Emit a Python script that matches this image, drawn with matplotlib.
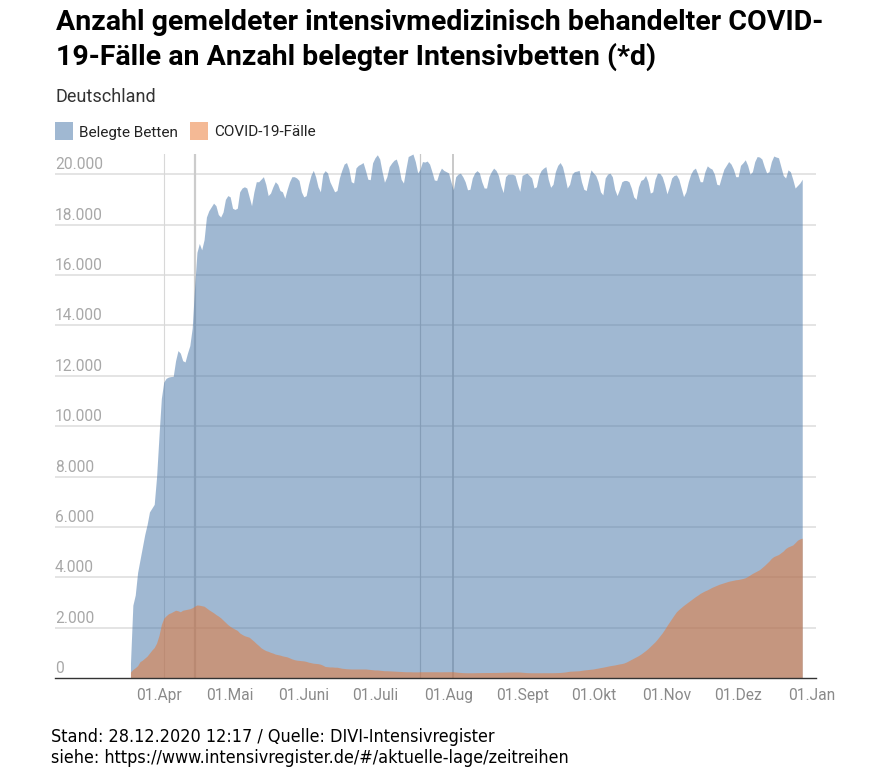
import matplotlib
matplotlib.use('Agg')
import matplotlib.pyplot as plt
import matplotlib.dates as mdates
import pandas as pd
from matplotlib.patches import Rectangle

# daily values from 20.03.2020 to 28.12.2020
start_date = '2020-03-20'

belegte_betten = [
    600, 2900, 3300, 4200, 4700, 5200, 5700, 6100, 6600, 6750,
    6900, 8000, 9600, 11100, 11750, 11900, 11950, 11970, 11980, 12600,
    13000, 12900, 12600, 12550, 12900, 13200, 13900, 15500, 16900, 17250,
    17000, 17400, 18300, 18550, 18700, 18850, 18750, 18400, 18300, 18500,
    19000, 19150, 19100, 18650, 18600, 18650, 19300, 19450, 19500, 19450,
    19100, 18750, 19300, 19700, 19700, 19800, 19900, 19600, 19150, 19250,
    19500, 19700, 19600, 19350, 19300, 19050, 19400, 19700, 19900, 19900,
    19850, 19750, 19300, 19100, 19150, 19600, 19950, 20150, 19900, 19500,
    19300, 20000, 20140, 20050, 19700, 19500, 19300, 19350, 19850, 20150,
    20400, 20460, 20200, 19700, 19650, 20250, 20350, 20400, 20460, 20150,
    19800, 19780, 20450, 20650, 20770, 20600, 20100, 19680, 19900, 20300,
    20440, 20550, 20600, 20300, 19800, 19650, 20200, 20700, 20750, 20800,
    20500, 20050, 20200, 20500, 20480, 20520, 20400, 20100, 19770, 19750,
    20050, 20240, 20150, 20100, 20050, 19700, 19380, 19900, 20000, 20040,
    19900, 19700, 19380, 19400, 19850, 20050, 20140, 20050, 19700, 19450,
    19450, 19900, 20100, 20240, 20150, 19950, 19550, 19270, 19900, 20000,
    20000, 20000, 19950, 19600, 19320, 19950, 20000, 20040, 19950, 19850,
    19450, 19500, 19950, 20150, 20240, 20300, 19800, 19480, 19600, 20100,
    20350, 20460, 20300, 19900, 19450, 19600, 20000, 20100, 20120, 20150,
    19700, 19400, 19350, 19800, 20170, 20050, 19950, 19700, 19300, 19180,
    19850, 20000, 20040, 19900, 19400, 19150, 19400, 19700, 19750, 19750,
    19700, 19450, 19100, 19000, 19500, 19750, 19800, 19950, 19700, 19250,
    19300, 19800, 20040, 20030, 19900, 19600, 19220, 19500, 19850, 19950,
    19970, 19800, 19450, 19110, 19300, 19700, 20000, 20170, 20240, 20000,
    19700, 19700, 20100, 20330, 20250, 20200, 20000, 19600, 19570, 19900,
    20200, 20350, 20500, 20400, 20200, 19900, 19900, 20350, 20450, 20570,
    20350, 20000, 20100, 20500, 20700, 20680, 20600, 20300, 20050, 20100,
    20500, 20720, 20680, 20650, 20300, 19950, 19850, 20170, 20100, 19800,
    19450, 19550, 19650, 19800,
]

covid_faelle = [
    250, 350, 420, 500, 660, 720, 800, 880, 1000, 1120,
    1220, 1400, 1700, 2130, 2380, 2480, 2560, 2600, 2650, 2700,
    2680, 2640, 2700, 2720, 2740, 2760, 2800, 2860, 2910, 2900,
    2880, 2860, 2790, 2720, 2660, 2600, 2530, 2470, 2400, 2310,
    2220, 2130, 2060, 2000, 1950, 1900, 1800, 1740, 1690, 1660,
    1630, 1550, 1470, 1380, 1300, 1210, 1150, 1100, 1070, 1030,
    1000, 960, 940, 920, 890, 870, 850, 810, 770, 740,
    720, 710, 700, 690, 670, 640, 620, 600, 590, 580,
    560, 520, 470, 460, 450, 450, 440, 440, 420, 400,
    390, 380, 375, 370, 370, 370, 370, 370, 370, 370,
    360, 350, 340, 330, 330, 320, 310, 300, 300, 295,
    290, 285, 280, 275, 270, 265, 260, 260, 260, 255,
    255, 255, 260, 260, 260, 260, 260, 260, 260, 260,
    258, 258, 260, 260, 262, 262, 260, 250, 240, 232,
    225, 222, 220, 220, 220, 222, 225, 225, 228, 228,
    230, 230, 230, 232, 232, 235, 238, 240, 242, 245,
    248, 250, 250, 250, 248, 240, 232, 225, 222, 220,
    220, 220, 220, 220, 222, 222, 222, 222, 222, 225,
    228, 232, 240, 250, 265, 280, 285, 290, 295, 300,
    315, 330, 340, 350, 360, 370, 390, 405, 425, 440,
    460, 480, 500, 515, 530, 550, 570, 585, 610, 650,
    700, 750, 800, 850, 900, 960, 1030, 1100, 1180, 1270,
    1360, 1450, 1560, 1680, 1800, 1940, 2090, 2230, 2370, 2510,
    2640, 2730, 2810, 2890, 2960, 3030, 3100, 3170, 3240, 3300,
    3370, 3420, 3470, 3510, 3560, 3610, 3650, 3690, 3730, 3760,
    3790, 3820, 3850, 3870, 3890, 3910, 3920, 3940, 3960, 3990,
    4040, 4100, 4160, 4210, 4260, 4310, 4390, 4470, 4560, 4650,
    4760, 4830, 4870, 4910, 4980, 5050, 5150, 5210, 5250, 5290,
    5380, 5480, 5530, 5560,
]

month_ticks = ['2020-04-01', '2020-05-01', '2020-06-01', '2020-07-01', '2020-08-01',
               '2020-09-01', '2020-10-01', '2020-11-01', '2020-12-01', '2021-01-01']
month_labels = ['01.Apr', '01.Mai', '01.Juni', '01.Juli', '01.Aug',
                '01.Sept', '01.Okt', '01.Nov', '01.Dez', '01.Jan']
y_ticks = [0, 2000, 4000, 6000, 8000, 10000, 12000, 14000, 16000, 18000, 20000]
y_labels = ['0', '2.000', '4.000', '6.000', '8.000', '10.000',
            '12.000', '14.000', '16.000', '18.000', '20.000']
# marker lines: (date, colour, width in pt)
marker_lines = [('2020-04-03', '#d8d8d8', 0.8), ('2020-04-16', '#cccccc', 1.6),
                ('2020-07-20', '#c8c8c8', 0.9), ('2020-08-03', '#c0c0c0', 1.2)]

BLUE = '#4373a7'
ORANGE = '#eb752d'

plt.rcParams['font.family'] = ['Roboto', 'DejaVu Sans']

W, H = 873, 777
fig = plt.figure(figsize=(W / 100, H / 100), dpi=100)

def fx(px):
    return px / W

def fy(py):
    return 1 - py / H

ax = fig.add_axes([fx(55), fy(678.3), (816 - 55) / W, (678.3 - 154) / H])

dates = pd.date_range(start_date, periods=len(belegte_betten), freq='D')
ax.fill_between(dates, 0, belegte_betten, color=BLUE, alpha=0.5, lw=0, zorder=2)
ax.fill_between(dates, 0, covid_faelle, color=ORANGE, alpha=0.5, lw=0, zorder=3)

for v in y_ticks[1:]:
    ax.axhline(v, color='#dddddd', lw=1.1, zorder=1)
for d, c, w in marker_lines:
    ax.axvline(pd.Timestamp(d), color=c, lw=w, zorder=1)

apr1 = mdates.date2num(pd.Timestamp('2020-04-01'))
ax.set_xlim(apr1 - 43.8, apr1 + 276.8)
ax.set_ylim(0, 20800)

ax.set_xticks([pd.Timestamp(t) for t in month_ticks])
ax.set_xticklabels(month_labels)
ax.tick_params(axis='x', length=0, pad=7, labelsize=11.2, labelcolor='#8a8a8a')
ax.set_yticks([])

for v, lab in zip(y_ticks, y_labels):
    ax.annotate(lab, xy=(0, v), xycoords=('axes fraction', 'data'),
                xytext=(0, 3.6), textcoords='offset points',
                ha='left', va='baseline', fontsize=11.2, color='#a8a8a8')

for s in ['left', 'right', 'top']:
    ax.spines[s].set_visible(False)
ax.spines['bottom'].set_color('#333333')
ax.spines['bottom'].set_linewidth(1.0)
ax.spines['bottom'].set_zorder(4)

# title, subtitle
fig.text(fx(55.5), fy(29.5), 'Anzahl gemeldeter intensivmedizinisch behandelter COVID-',
         fontsize=20.5, fontweight='bold', va='baseline', ha='left', color='#000000')
fig.text(fx(55.5), fy(64.5), '19-Fälle an Anzahl belegter Intensivbetten (*d)',
         fontsize=20.5, fontweight='bold', va='baseline', ha='left', color='#000000')
fig.text(fx(55.5), fy(101.7), 'Deutschland', fontsize=13, va='baseline', ha='left', color='#333333')

# legend
for x0, col, lab in [(55, BLUE, 'Belegte Betten'), (190, ORANGE, 'COVID-19-Fälle')]:
    fig.patches.append(Rectangle((fx(x0), fy(139.5)), 17.5 / W, 17.5 / H,
                                 transform=fig.transFigure, facecolor=col,
                                 alpha=0.5, lw=0))
    fig.text(fx(x0 + 24), fy(136.5), lab, fontsize=11, va='baseline',
             ha='left', color='#222222')

# footer
fig.text(fx(51), fy(742.3), 'Stand: 28.12.2020 12:17 / Quelle: DIVI-Intensivregister',
         fontsize=12.9, family='DejaVu Sans', fontstretch='condensed',
         va='baseline', ha='left', color='#000000')
fig.text(fx(51), fy(763.3), 'siehe: https://www.intensivregister.de/#/aktuelle-lage/zeitreihen',
         fontsize=12.9, family='DejaVu Sans', fontstretch='condensed',
         va='baseline', ha='left', color='#000000')

fig.savefig('out.png', dpi=100)
